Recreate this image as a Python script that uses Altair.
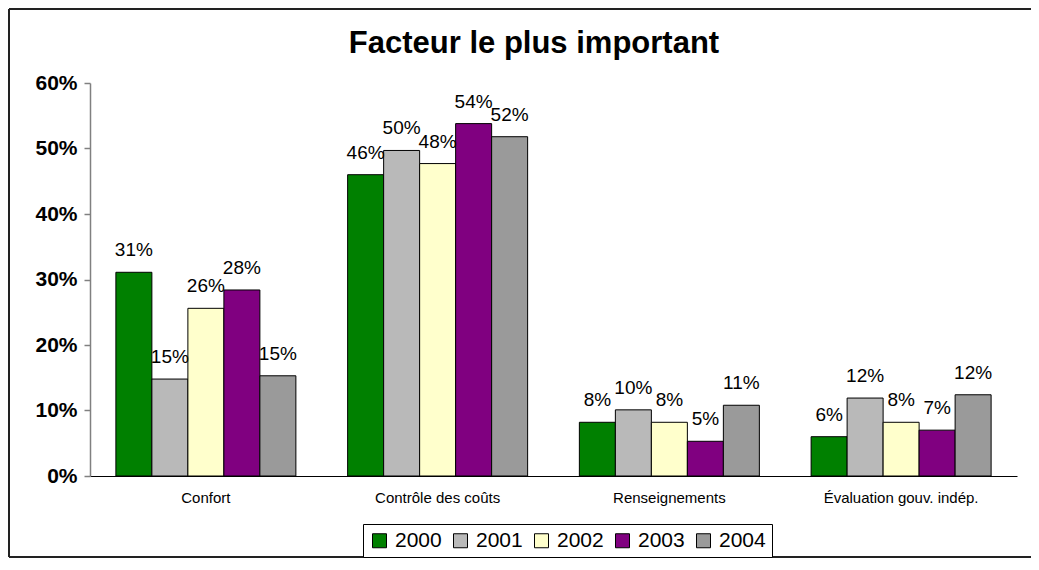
import altair as alt
import pandas as pd

categories = ["Confort", "Contrôle des coûts", "Renseignements", "Évaluation gouv. indép."]
years = ["2000", "2001", "2002", "2003", "2004"]
values_2000 = [0.311, 0.460, 0.082, 0.060]
values_2001 = [0.148, 0.497, 0.101, 0.119]
values_2002 = [0.256, 0.477, 0.082, 0.082]
values_2003 = [0.284, 0.538, 0.053, 0.070]
values_2004 = [0.153, 0.518, 0.108, 0.124]
y_ticks = [0.0, 0.1, 0.2, 0.3, 0.4, 0.5, 0.6]
colors = ["#008000", "#b9b9b9", "#ffffcc", "#800080", "#9a9a9a"]
title_text = "Facteur le plus important"

rows = []
for yr, vals in zip(years, [values_2000, values_2001, values_2002, values_2003, values_2004]):
    for c, v in zip(categories, vals):
        rows.append({"cat": c, "year": yr, "value": v})
df = pd.DataFrame(rows)

FONT = "Liberation Sans"

x_enc = alt.X(
    "cat:N",
    sort=categories,
    scale=alt.Scale(paddingInner=0.2233, paddingOuter=0.1117),
    axis=alt.Axis(
        title=None, labelAngle=0, labelFont=FONT, labelFontSize=15,
        labelColor="black", labelPadding=14, ticks=False,
        domainColor="black", domainWidth=1,
    ),
)
xoff_enc = alt.XOffset("year:N", sort=years, scale=alt.Scale(paddingInner=0, paddingOuter=0))
y_enc = alt.Y(
    "value:Q",
    scale=alt.Scale(domain=[0, 0.6], nice=False),
    axis=alt.Axis(
        title=None, values=y_ticks, format=".0%", labelFont=FONT,
        labelFontSize=21, labelFontWeight="bold", labelColor="black",
        labelPadding=7, tickSize=6, tickColor="#808080", tickWidth=1.5,
        domainColor="#808080", domainWidth=1.5, grid=False,
    ),
)

bars = alt.Chart(df).mark_bar(stroke="black", strokeWidth=1).encode(
    x=x_enc,
    xOffset=xoff_enc,
    y=y_enc,
    color=alt.Color(
        "year:N",
        sort=years,
        scale=alt.Scale(domain=years, range=colors),
        legend=alt.Legend(
            title=None, orient="none", legendX=273, legendY=441,
            direction="horizontal", symbolType="square", symbolSize=196,
            symbolStrokeColor="black", symbolStrokeWidth=1,
            labelFont=FONT, labelFontSize=21, labelColor="black",
            labelOffset=5, columnPadding=8, padding=6,
            strokeColor="black", fillColor="white",
        ),
    ),
)

labels = alt.Chart(df).mark_text(
    baseline="alphabetic", dy=-16, fontSize=19, font=FONT, color="black"
).encode(
    x=x_enc,
    xOffset=xoff_enc,
    y=y_enc,
    text=alt.Text("value:Q", format=".0%"),
)

title = alt.Chart(pd.DataFrame({"t": [title_text]})).mark_text(
    font=FONT, fontSize=31, fontWeight="bold", color="black",
    baseline="alphabetic", align="center"
).encode(text="t:N", x=alt.value(444), y=alt.value(-30))

edge = pd.DataFrame({"k": [0]})
frame_top = alt.Chart(edge).mark_rule(color="#222222", strokeWidth=2).encode(
    x=alt.value(-81), x2=alt.value(960), y=alt.value(-74)
)
frame_left = alt.Chart(edge).mark_rule(color="#222222", strokeWidth=2).encode(
    x=alt.value(-81), y=alt.value(-74), y2=alt.value(474)
)
frame_bottom = alt.Chart(edge).mark_rule(color="#222222", strokeWidth=2).encode(
    x=alt.value(-81), x2=alt.value(960), y=alt.value(474)
)

chart = alt.layer(frame_top, frame_left, frame_bottom, bars, labels, title).properties(
    width=927,
    height=393,
    autosize=alt.AutoSizeParams(type="none"),
    padding={"left": 82, "top": 75, "right": 14, "bottom": 82},
).configure_view(strokeWidth=0)

chart.save("out.html", embed_options={"renderer": "svg", "actions": False})
